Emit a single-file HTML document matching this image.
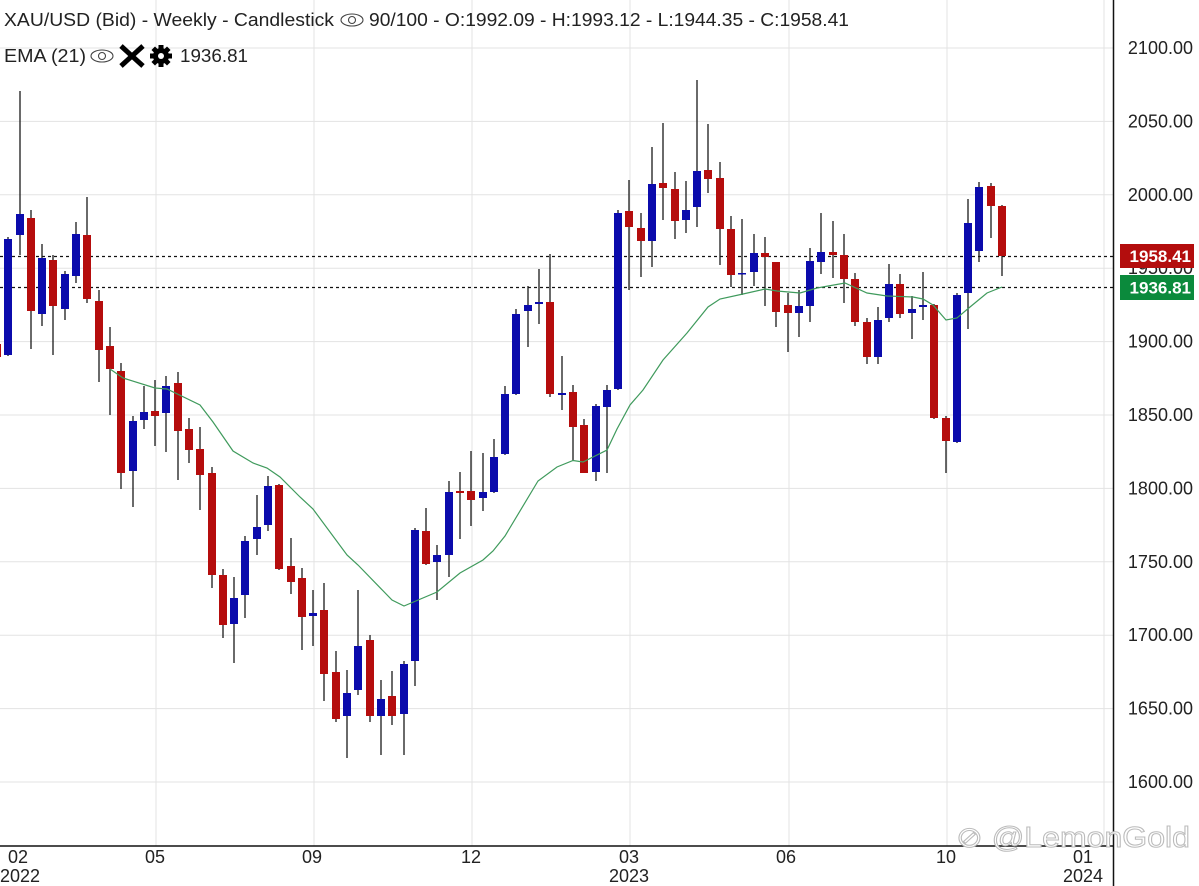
<!DOCTYPE html>
<html><head><meta charset="utf-8"><style>
html,body{margin:0;padding:0;background:#fff;}
svg{display:block;font-family:"Liberation Sans",Arial,sans-serif;}
</style></head><body>
<svg width="1199" height="886" viewBox="0 0 1199 886" xmlns="http://www.w3.org/2000/svg">
<g stroke="#e3e3e3" stroke-width="1">
<line x1="0" y1="48" x2="1113" y2="48"/><line x1="0" y1="121.4" x2="1113" y2="121.4"/><line x1="0" y1="194.8" x2="1113" y2="194.8"/><line x1="0" y1="268.2" x2="1113" y2="268.2"/><line x1="0" y1="341.6" x2="1113" y2="341.6"/><line x1="0" y1="415" x2="1113" y2="415"/><line x1="0" y1="488.4" x2="1113" y2="488.4"/><line x1="0" y1="561.8" x2="1113" y2="561.8"/><line x1="0" y1="635.2" x2="1113" y2="635.2"/><line x1="0" y1="708.6" x2="1113" y2="708.6"/><line x1="0" y1="782" x2="1113" y2="782"/>
<line x1="156" y1="0" x2="156" y2="846"/><line x1="314" y1="0" x2="314" y2="846"/><line x1="472" y1="0" x2="472" y2="846"/><line x1="630" y1="0" x2="630" y2="846"/><line x1="789" y1="0" x2="789" y2="846"/><line x1="947" y1="0" x2="947" y2="846"/><line x1="1104" y1="0" x2="1104" y2="846"/>
</g>
<g stroke="#111" stroke-width="1.2" stroke-dasharray="3,3">
<line x1="0" y1="256.5" x2="1113" y2="256.5"/><line x1="0" y1="287.5" x2="1113" y2="287.5"/>
</g>
<g id="c" stroke="#1a1a1a" stroke-width="1.3"></g>
<polyline fill="none" stroke="#3f9a5c" stroke-width="1.2" points="110,369 123,378 155,388 167,389 200,405 213,422 233,451 253,463 267,468 280,477 300,497 313,509 347,555 358,565 392,600 404,606 437,592 460,573 483,560 493,551 505,536 538,481 557,467 573,460.5 583,462 607,450 617,429 630,405 643,390 663,360 687,333 708,307 720,299 743,294 765,289 777,291 800,293 817,288 845,283 867,293 887,296 913,297 923,299 933,305 946,320 957,318 970,307 987,293 1002,287"/>
<line x1="0" y1="846" x2="1113" y2="846" stroke="#111" stroke-width="1.5"/>
<line x1="1113.5" y1="0" x2="1113.5" y2="886" stroke="#111" stroke-width="1.5"/>
<g font-size="18" fill="#222" text-anchor="end">
<text x="1193" y="54">2100.00</text><text x="1193" y="127.4">2050.00</text><text x="1193" y="200.8">2000.00</text><text x="1193" y="274.2">1950.00</text><text x="1193" y="347.6">1900.00</text><text x="1193" y="421">1850.00</text><text x="1193" y="494.4">1800.00</text><text x="1193" y="567.8">1750.00</text><text x="1193" y="641.2">1700.00</text><text x="1193" y="714.6">1650.00</text><text x="1193" y="788">1600.00</text>
</g>
<rect x="1120" y="244" width="74" height="24" fill="#b30d0d"/>
<rect x="1120" y="275" width="74" height="25" fill="#0b8a3c"/>
<g font-size="17" fill="#fff" text-anchor="end" font-weight="bold"><text x="1191" y="262">1958.41</text><text x="1191" y="293.5">1936.81</text></g>
<g font-size="18" fill="#222" text-anchor="middle">
<text x="18" y="863">02</text><text x="20" y="882">2022</text>
<text x="155" y="863">05</text><text x="312" y="863">09</text><text x="471" y="863">12</text>
<text x="629" y="863">03</text><text x="629" y="882">2023</text>
<text x="786" y="863">06</text><text x="946" y="863">10</text>
<text x="1083" y="863">01</text><text x="1083" y="882">2024</text>
</g>
<text x="956" y="847" font-size="29" fill="#fff" stroke="#bbb" stroke-width="1" textLength="234" lengthAdjust="spacingAndGlyphs">⊘ @LemonGold</text>
<g font-size="18" fill="#222">
<text x="4" y="26" textLength="330" lengthAdjust="spacingAndGlyphs">XAU/USD (Bid) - Weekly - Candlestick</text>
<text x="369" y="26" textLength="480" lengthAdjust="spacingAndGlyphs">90/100 - O:1992.09 - H:1993.12 - L:1944.35 - C:1958.41</text>
<text x="4" y="62" textLength="82" lengthAdjust="spacingAndGlyphs">EMA (21)</text>
<text x="180" y="62" textLength="68" lengthAdjust="spacingAndGlyphs">1936.81</text>
</g>
<g fill="none" stroke="#444" stroke-width="1.1">
<ellipse cx="352" cy="20" rx="11" ry="6"/><circle cx="352" cy="20" r="3.5"/>
<ellipse cx="102" cy="56" rx="11" ry="6"/><circle cx="102" cy="56" r="3.5"/>
</g>
<path d="M121,46 L143,66 M143,46 L121,66" stroke="#000" stroke-width="5"/>
<g transform="translate(161,56)"><circle r="8" fill="#000"/><circle r="3" fill="#fff"/>
<g fill="#000"><rect x="-2.5" y="-11" width="5" height="22"/><rect x="-11" y="-2.5" width="22" height="5"/><rect x="-2.5" y="-11" width="5" height="22" transform="rotate(45)"/><rect x="-2.5" y="-11" width="5" height="22" transform="rotate(-45)"/></g><circle r="3" fill="#fff"/></g>
</svg>
<script>
var d=[
[-3,344,357,338,362,'r'],[8,239,355,237,356,'b'],[20,214,235,91,255,'b'],[31,218,311,210,349,'r'],[42,258,314,244,326,'b'],[53,260,306,255,355,'r'],[65,274,309,271,320,'b'],[76,234,276,222,283,'b'],[87,235,299,197,303,'r'],[99,301,350,290,382,'r'],[110,346,369,327,415,'r'],[121,371,473,363,489,'r'],[133,421,471,416,507,'b'],[144,412,420,386,429,'b'],[155,411,416,380,446,'r'],[166,386,413,376,452,'b'],[178,383,431,372,480,'r'],[189,429,450,418,463,'r'],[200,449,475,427,510,'r'],[212,473,575,467,588,'r'],[223,575,625,569,638,'r'],[234,598,624,577,663,'b'],[245,541,595,536,618,'b'],[257,527,539,495,555,'b'],[268,486,525,476,531,'b'],[279,485,569,484,570,'r'],[291,566,582,538,594,'r'],[302,578,617,568,650,'r'],[313,613,616,590,646,'b'],[324,610,674,583,701,'r'],[336,672,719,651,722,'r'],[347,693,716,670,758,'b'],[358,646,690,590,695,'b'],[370,640,716,635,722,'r'],[381,699,716,680,755,'b'],[392,696,716,671,725,'r'],[404,664,714,661,755,'b'],[415,530,661,528,686,'b'],[426,531,564,508,565,'r'],[437,555,562,545,600,'b'],[449,492,555,481,577,'b'],[460,491,493,472,539,'r'],[471,491,500,451,526,'r'],[483,492,498,453,511,'b'],[494,457,492,439,493,'b'],[505,394,454,386,455,'b'],[516,314,394,309,395,'b'],[528,305,311,286,347,'b'],[539,302,304,269,324,'b'],[550,302,394,254,397,'r'],[562,393,395,356,410,'b'],[573,392,427,385,461,'r'],[584,425,473,419,473,'r'],[596,406,472,404,481,'b'],[607,390,407,385,473,'b'],[618,213,389,210,390,'b'],[629,211,227,180,290,'r'],[641,228,241,213,277,'r'],[652,184,241,147,267,'b'],[663,183,188,123,220,'r'],[675,189,221,172,239,'r'],[686,210,220,181,233,'b'],[697,171,207,80,227,'b'],[708,170,179,124,193,'r'],[720,178,229,162,265,'r'],[731,229,275,216,287,'r'],[742,273,274,219,295,'b'],[754,253,272,234,286,'b'],[765,253,257,237,306,'r'],[776,262,312,262,327,'r'],[788,305,313,293,352,'r'],[799,306,313,290,337,'b'],[810,261,306,248,322,'b'],[821,252,262,213,274,'b'],[833,252,255,221,278,'r'],[844,255,279,234,303,'r'],[855,279,322,273,326,'r'],[867,322,357,318,364,'r'],[878,320,357,307,364,'b'],[889,284,318,264,322,'b'],[900,284,314,274,318,'r'],[912,309,313,296,339,'b'],[923,305,307,272,320,'b'],[934,305,418,304,419,'r'],[946,418,441,416,473,'r'],[957,295,442,293,443,'b'],[968,223,293,199,329,'b'],[979,187,251,182,262,'b'],[991,186,206,183,238,'r'],[1002,206,256,205,276,'r']];
var g=document.getElementById('c'),s='';
d.forEach(function(c){var x=c[0],col=c[5]=='r'?'#b50d0d':'#0b0bac';
s+='<line x1="'+x+'" y1="'+c[3]+'" x2="'+x+'" y2="'+c[4]+'"/>';
var h=Math.max(c[2]-c[1],1.5);
s+='<rect x="'+(x-4)+'" y="'+c[1]+'" width="8" height="'+h+'" fill="'+col+'" stroke="none"/>';});
g.innerHTML=s;
</script>
</body></html>
